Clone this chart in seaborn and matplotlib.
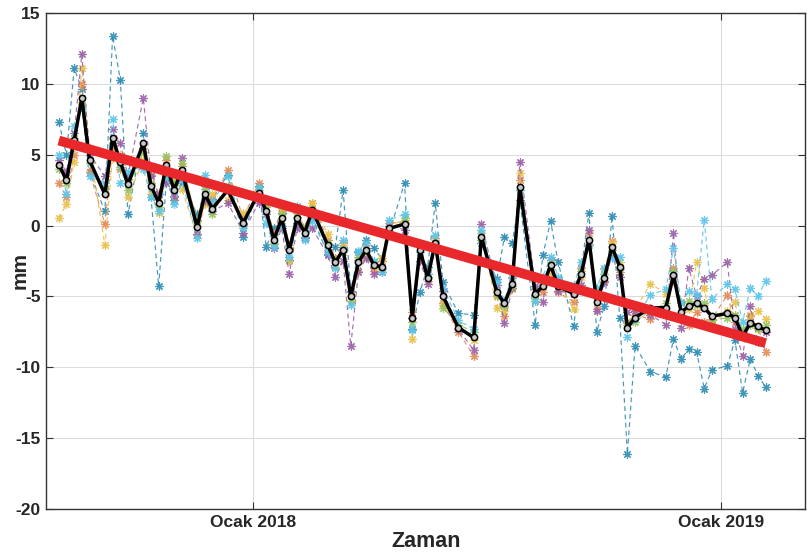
import numpy as np
import pandas as pd
import matplotlib
matplotlib.use("Agg")
import matplotlib.pyplot as plt
import seaborn as sns

dates = ["2017-08-02","2017-08-08","2017-08-14","2017-08-20","2017-08-26","2017-09-07","2017-09-13","2017-09-19","2017-09-25","2017-10-07",
         "2017-10-13","2017-10-19","2017-10-25","2017-10-31","2017-11-06","2017-11-18","2017-11-24","2017-11-30","2017-12-12","2017-12-24",
         "2018-01-05","2018-01-11","2018-01-17","2018-01-23","2018-01-29","2018-02-04","2018-02-10","2018-02-16","2018-02-28","2018-03-06",
         "2018-03-12","2018-03-18","2018-03-24","2018-03-30","2018-04-05","2018-04-11","2018-04-17","2018-04-29","2018-05-05","2018-05-11",
         "2018-05-17","2018-05-23","2018-05-29","2018-06-10","2018-06-22","2018-06-28","2018-07-10","2018-07-16","2018-07-22","2018-07-28",
         "2018-08-09","2018-08-15","2018-08-21","2018-08-27","2018-09-08","2018-09-14","2018-09-20","2018-09-26","2018-10-02","2018-10-08",
         "2018-10-14","2018-10-20","2018-10-26","2018-11-07","2018-11-19","2018-11-25","2018-12-01","2018-12-07","2018-12-13","2018-12-19",
         "2018-12-25","2019-01-06","2019-01-12","2019-01-18","2019-01-24","2019-01-30","2019-02-05"]

mean_mm = [4.3, 3.2, 6.0, 9.0, 4.6, 2.2, 6.2, 4.5, 2.9, 5.8,
           2.8, 1.6, 4.3, 2.5, 3.9, -0.1, 2.2, 1.2, 2.5, 0.2,
           2.3, 1.0, -1.0, 0.5, -1.7, 0.5, -0.5, 1.1, -1.4, -2.6,
           -1.7, -5.0, -2.6, -1.7, -2.8, -2.9, -0.2, 0.1, -6.5, -1.7,
           -3.7, -1.2, -5.0, -7.2, -7.9, -0.8, -4.7, -5.5, -4.1, 2.7,
           -4.8, -4.3, -2.8, -4.3, -4.8, -3.4, -1.0, -5.4, -3.7, -1.5,
           -2.9, -7.2, -6.5, -5.8, -5.8, -3.5, -6.1, -5.7, -5.5, -5.8,
           -6.4, -6.2, -6.5, -7.8, -6.9, -7.1, -7.4]

s_blue = [7.3, 5.0, 11.1, 9.6, 3.8, 1.0, 13.4, 10.3, 0.8, 6.5,
          2.0, -4.3, 3.2, 1.8, 3.0, 0.8, 1.6, 1.9, 3.6, -0.8,
          2.8, -1.5, -0.2, 0.9, -2.4, 0.2, -0.8, 0.6, -2.0, -1.5,
          2.5, -4.6, -1.9, -1.0, -1.6, -2.3, -0.5, 3.0, -7.3, -4.7,
          -2.9, 1.6, -4.0, -6.2, -6.3, -1.2, -3.8, -0.8, -1.2, 1.8,
          -7.0, -2.1, 0.3, -2.6, -7.1, -3.0, 0.9, -7.5, -5.7, 0.7,
          -6.5, -16.1, -8.5, -10.3, -10.7, -8.0, -9.4, -8.7, -8.9, -11.5,
          -10.2, -9.9, -8.1, -11.8, -9.4, -10.6, -11.4]

s_orange = [3.0, 2.0, 5.0, 10.0, 3.8, 0.1, 5.5, 4.0, 3.3, 5.5,
            3.6, 2.2, 4.6, 2.0, 4.2, 0.4, 2.8, 1.8, 3.9, 0.5,
            3.0, 1.5, -0.6, 1.0, -1.4, 0.9, -0.1, 1.6, -1.0, -2.3,
            -1.2, -4.7, -2.4, -1.4, -3.2, -2.5, 0.2, 0.2, -6.1, -1.3,
            -3.4, -0.9, -5.5, -7.5, -9.2, -0.5, -5.0, -6.4, -3.7, 3.2,
            -4.5, -4.7, -3.1, -4.7, -5.4, -3.0, -0.5, -5.9, -3.9, -1.1,
            -3.3, -6.8, -6.3, -6.6, -6.3, -3.0, -6.6, -7.0, -6.1, -6.8,
            -6.6, -4.9, -6.8, -7.5, -6.4, -7.2, -8.9]

s_yellow = [0.5, 1.5, 4.5, 11.1, 5.5, -1.4, 4.8, 5.0, 2.0, 4.6,
            2.2, 0.9, 3.6, 3.2, 2.6, -0.7, 1.5, 2.2, 1.8, 0.9,
            2.0, 1.8, -1.2, 1.2, -2.5, 1.0, -0.9, 1.6, -0.6, -2.9,
            -1.4, -5.2, -3.2, -2.2, -3.0, -2.3, 0.0, 0.4, -8.0, -1.4,
            -3.9, -1.0, -5.6, -7.0, -8.1, -0.5, -5.8, -6.0, -4.5, 3.7,
            -5.2, -4.0, -3.5, -4.0, -5.9, -3.6, -1.3, -5.0, -3.1, -1.2,
            -2.6, -7.0, -6.0, -4.1, -4.8, -3.9, -5.4, -5.9, -2.6, -4.4,
            -7.0, -6.0, -5.4, -7.9, -6.3, -6.0, -6.6]

s_purple = [4.6, 3.8, 6.5, 12.1, 5.0, 3.5, 6.8, 5.8, 3.5, 9.0,
            3.5, 2.2, 3.0, 2.1, 4.8, -0.6, 1.8, 1.0, 1.6, -0.5,
            1.6, 0.8, -1.6, -0.2, -3.4, -0.2, -0.9, -0.2, -2.1, -3.6,
            -2.5, -8.5, -3.3, -2.3, -3.4, -3.3, 0.0, -0.3, -6.5, -2.5,
            -4.1, -1.6, -4.6, -7.3, -8.8, 0.1, -4.2, -6.9, -4.4, 4.5,
            -4.3, -5.4, -2.4, -4.6, -4.8, -4.2, -0.3, -6.0, -4.0, -2.1,
            -3.6, -6.1, -6.0, -6.3, -7.0, -0.5, -7.2, -3.0, -5.0, -3.8,
            -3.5, -2.6, -7.3, -9.2, -5.7, -8.2, -7.5]

s_green = [4.0, 3.0, 6.2, 8.5, 4.4, 2.6, 5.9, 4.1, 2.5, 5.2,
           3.0, 1.3, 4.9, 2.9, 4.4, 0.3, 2.6, 0.8, 2.8, 0.0,
           2.5, 1.3, -1.3, 0.8, -1.5, 0.6, -0.2, 1.2, -1.2, -2.4,
           -1.9, -5.3, -2.2, -1.9, -2.6, -3.1, -0.4, 0.5, -6.8, -1.5,
           -3.6, -1.4, -5.8, -7.0, -7.5, -1.0, -4.9, -5.7, -4.3, 2.5,
           -5.3, -4.1, -2.6, -4.0, -4.4, -3.2, -1.4, -5.1, -3.4, -1.7,
           -3.1, -6.9, -6.8, -6.0, -5.5, -3.2, -6.4, -5.3, -5.6, -5.5,
           -6.7, -6.5, -6.3, -7.3, -7.0, -7.3, -7.0]

s_cyan = [5.0, 2.2, 7.0, 8.2, 3.5, 3.0, 7.5, 3.0, 3.8, 4.0,
          2.0, 1.0, 3.5, 1.5, 3.2, -0.9, 3.6, 1.6, 3.5, -0.2,
          2.7, 0.2, -1.5, 0.0, -2.2, 1.4, -1.0, 0.3, -1.9, -3.0,
          -1.0, -5.6, -1.8, -1.2, -2.5, -3.3, 0.4, 0.8, -7.4, -1.9,
          -3.4, -0.7, -4.4, -6.7, -7.3, -0.3, -4.0, -5.3, -3.6, 2.5,
          -5.3, -3.6, -2.2, -3.6, -4.2, -2.6, -1.4, -4.4, -3.0, -2.3,
          -2.2, -7.9, -6.6, -4.9, -4.5, -1.6, -5.5, -4.6, -4.9, 0.4,
          -5.2, -4.1, -4.5, -6.8, -4.4, -5.0, -3.9]

trend_dates = ["2017-08-02", "2019-02-05"]
trend_mm = [6.0, -8.3]

series = [s_blue, s_orange, s_yellow, s_purple, s_green, s_cyan]
series_colors = ["#2f8db4", "#e38a58", "#e8c04a", "#9a62a6", "#95c35e", "#5cc6ea"]

xtick_dates = ["2018-01-01", "2019-01-01"]
xtick_labels = ["Ocak 2018", "Ocak 2019"]
ytick_vals = [-20, -15, -10, -5, 0, 5, 10, 15]

sns.set_theme(style="white")
plt.rcParams["font.family"] = ["Liberation Sans Narrow", "Liberation Sans", "DejaVu Sans"]

fig = plt.figure(figsize=(8.07, 5.53), dpi=100)
ax = fig.add_axes([0.057, 0.0796, 0.941, 0.897])

x = pd.to_datetime(dates)
for vals, col in zip(series, series_colors):
    sns.lineplot(x=x, y=vals, ax=ax, color=col, linestyle=(0, (4, 3)), linewidth=0.85,
                 marker=(8, 2, 0), markersize=6, markeredgewidth=0.85, markeredgecolor=col,
                 sort=False, errorbar=None, alpha=0.9)

sns.lineplot(x=x, y=mean_mm, ax=ax, color="black", linewidth=2.5, marker="o",
             markersize=4.5, markerfacecolor="#c8c8c8", markeredgecolor="black",
             markeredgewidth=1.1, sort=False, errorbar=None)

sns.lineplot(x=pd.to_datetime(trend_dates), y=trend_mm, ax=ax, color="#e8282a",
             linewidth=7, solid_capstyle="butt", sort=False, errorbar=None)

ax.set_xlim(pd.Timestamp("2017-07-23"), pd.Timestamp("2019-03-08"))
ax.set_ylim(-20, 15)
ax.set_yticks(ytick_vals)
ax.set_yticklabels([str(v) for v in ytick_vals], fontsize=12.5, fontweight="bold")
ax.set_xticks(pd.to_datetime(xtick_dates))
ax.set_xticklabels(xtick_labels, fontsize=12.5, fontweight="bold")
ax.grid(True, color="#dcdcdc", linewidth=0.8)
ax.tick_params(direction="in", length=5, width=0.8, color="#333333",
               top=True, right=True, bottom=True, left=True, pad=4)
for s in ax.spines.values():
    s.set_color("#333333")
    s.set_linewidth(1.0)
ax.set_xlabel("Zaman", fontsize=15.5, fontweight="bold", labelpad=1)
ax.set_ylabel("mm", fontsize=15, fontweight="bold")
ax.yaxis.set_label_coords(-0.022, 0.48)

fig.savefig("out.png", dpi=100)
